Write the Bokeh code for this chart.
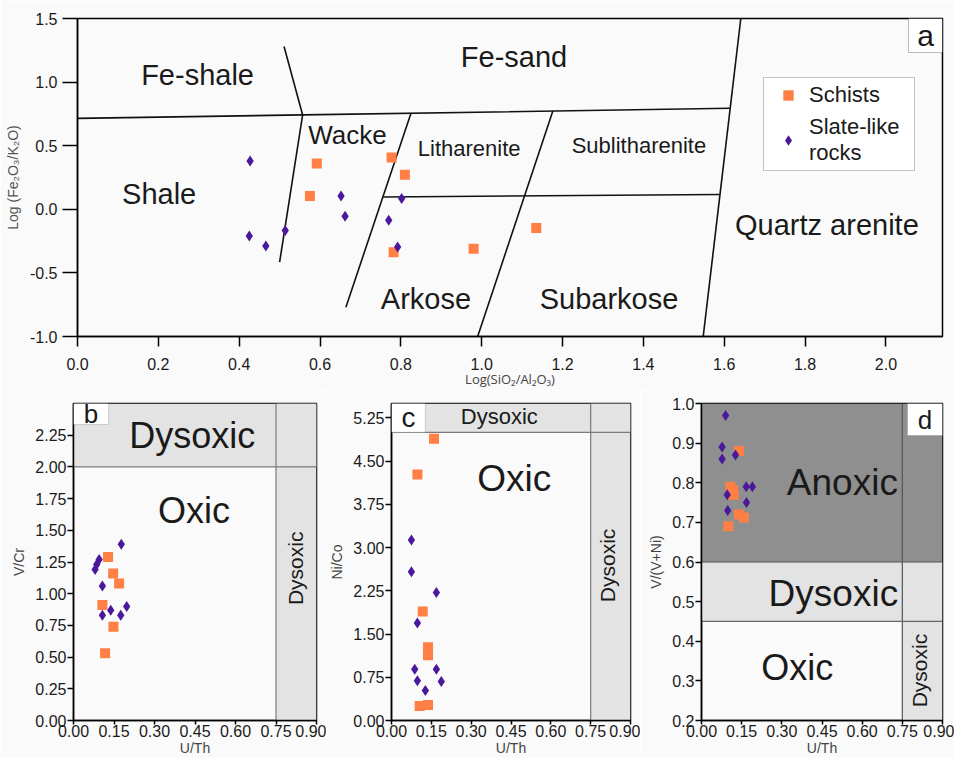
import math
from bokeh.plotting import figure
from bokeh.models import (Range1d, FixedTicker, NumeralTickFormatter, Legend, LegendItem,
                          BoxAnnotation, Span, Label)
from bokeh.layouts import column, row
from bokeh.core.properties import value
from bokeh.embed import file_html
from bokeh.resources import INLINE

# ---------------- data ----------------
# Panel a: Log(SiO2/Al2O3) vs Log(Fe2O3/K2O)
a_schists_x = [0.592, 0.777, 0.810, 0.575, 0.782, 0.980, 1.135]
a_schists_y = [0.360, 0.408, 0.271, 0.105, -0.337, -0.310, -0.147]
a_slate_x = [0.427, 0.652, 0.662, 0.802, 0.770, 0.792, 0.514, 0.466, 0.425]
a_slate_y = [0.379, 0.105, -0.055, 0.084, -0.087, -0.297, -0.166, -0.289, -0.210]

# classification field boundaries (Herron diagram)
a_bound_xs = [[0.0, 0.557, 1.614], [0.511, 0.557], [0.557, 0.500], [0.825, 0.664],
              [0.756, 1.589], [1.176, 0.990], [1.641, 1.548]]
a_bound_ys = [[0.715, 0.742, 0.794], [1.280, 0.742], [0.742, -0.416], [0.755, -0.770],
              [0.097, 0.116], [0.772, -1.000], [1.500, -1.000]]

a_field_names = ["Fe-shale", "Fe-sand", "Wacke", "Litharenite", "Sublitharenite",
                 "Shale", "Arkose", "Subarkose", "Quartz arenite"]
a_field_x = [0.297, 1.080, 0.668, 0.969, 1.389, 0.202, 0.862, 1.315, 1.854]
a_field_y = [1.057, 1.200, 0.584, 0.481, 0.500, 0.124, -0.704, -0.704, -0.126]
a_field_size = ["29px", "29px", "26px", "22px", "22px", "29px", "29px", "29px", "29px"]

a_xticks = [0.0, 0.2, 0.4, 0.6, 0.8, 1.0, 1.2, 1.4, 1.6, 1.8, 2.0]
a_yticks = [-1.0, -0.5, 0.0, 0.5, 1.0, 1.5]

# Panels b-d: U/Th vs redox proxies
uth_ticks = [0.0, 0.15, 0.30, 0.45, 0.60, 0.75, 0.90]
uth_dysoxic = 0.75

b_schists_x = [0.128, 0.147, 0.169, 0.107, 0.148, 0.117]
b_schists_y = [1.29, 1.16, 1.08, 0.91, 0.74, 0.53]
b_slate_x = [0.177, 0.095, 0.086, 0.080, 0.107, 0.107, 0.138, 0.175, 0.197]
b_slate_y = [1.39, 1.27, 1.23, 1.19, 1.06, 0.83, 0.87, 0.83, 0.90]
b_yticks = [0.0, 0.25, 0.5, 0.75, 1.0, 1.25, 1.5, 1.75, 2.0, 2.25]
b_dysoxic = 2.0

c_schists_x = [0.160, 0.0975, 0.1175, 0.1375, 0.1375, 0.106, 0.1375]
c_schists_y = [4.89, 4.27, 1.89, 1.27, 1.13, 0.25, 0.27]
c_slate_x = [0.075, 0.075, 0.169, 0.0975, 0.0875, 0.169, 0.0975, 0.1875, 0.1275]
c_slate_y = [3.13, 2.58, 2.22, 1.69, 0.89, 0.89, 0.69, 0.675, 0.52]
c_yticks = [0.0, 0.75, 1.5, 2.25, 3.0, 3.75, 4.5, 5.25]
c_dysoxic = 5.0

d_schists_x = [0.140, 0.108, 0.118, 0.120, 0.140, 0.158, 0.100]
d_schists_y = [0.880, 0.790, 0.780, 0.770, 0.720, 0.712, 0.690]
d_slate_x = [0.090, 0.077, 0.077, 0.127, 0.167, 0.190, 0.096, 0.168, 0.098]
d_slate_y = [0.970, 0.890, 0.860, 0.870, 0.790, 0.790, 0.770, 0.750, 0.730]
d_yticks = [0.2, 0.3, 0.4, 0.5, 0.6, 0.7, 0.8, 0.9, 1.0]
d_anoxic = 0.60
d_dysoxic = 0.45

# ---------------- styles ----------------
FONT = "Liberation Sans"
SCH_COLOR = "#FF7F45"
SLATE_COLOR = "#4A189A"
LIGHT = "#e3e3e3"
DARK = "#8f8f8f"
BG = "#fafafa"


def style_axes(p, tick_out_x, tick_out_y):
    p.xgrid.visible = False
    p.ygrid.visible = False
    p.outline_line_color = "black"
    p.outline_line_width = 1.5
    p.background_fill_color = BG
    p.border_fill_color = BG
    for ax in (p.xaxis[0], p.yaxis[0]):
        ax.axis_line_color = "black"
        ax.axis_line_width = 1.5
        ax.major_tick_line_color = "black"
        ax.major_tick_line_width = 1.5
        ax.major_tick_in = 0
        ax.minor_tick_in = 0
        ax.minor_tick_out = 0
        ax.major_label_text_font = FONT
        ax.major_label_text_font_size = "16px"
        ax.major_label_text_color = "#1a1a1a"
        ax.axis_label_text_font = FONT
        ax.axis_label_text_font_style = "normal"
    p.xaxis[0].major_tick_out = tick_out_x
    p.yaxis[0].major_tick_out = tick_out_y


# ---------------- panel a ----------------
pa = figure(width=954, height=390, output_backend="svg", toolbar_location=None,
            x_range=Range1d(0, 2.14), y_range=Range1d(-1.0, 1.5),
            min_border_left=77, min_border_right=12, min_border_top=18, min_border_bottom=54)
style_axes(pa, 10, 15)
pa.xaxis.ticker = FixedTicker(ticks=a_xticks)
pa.yaxis.ticker = FixedTicker(ticks=a_yticks)
pa.xaxis.formatter = NumeralTickFormatter(format="0.0")
pa.yaxis.formatter = NumeralTickFormatter(format="0.0")
pa.xaxis.major_label_standoff = 11
pa.yaxis.major_label_standoff = 5
pa.xaxis.axis_label = "Log(SiO₂/Al₂O₃)"
pa.xaxis.axis_label_text_font = "Open Sans"
pa.xaxis.axis_label_text_font_size = "13px"
pa.xaxis.axis_label_text_color = "#444444"
pa.xaxis.axis_label_standoff = -3
pa.yaxis.axis_label = "Log (Fe₂O₃/K₂O)"
pa.yaxis.axis_label_text_font_size = "14px"
pa.yaxis.axis_label_text_color = "#555555"
pa.yaxis.axis_label_standoff = 6

pa.multi_line(xs=a_bound_xs, ys=a_bound_ys, line_color="#111111", line_width=1.6)
pa.text(x=a_field_x, y=a_field_y, text=a_field_names, text_font=value(FONT),
        text_font_size=a_field_size, text_align="center", text_baseline="middle",
        text_color="#1a1a1a")
ra_s = pa.scatter(a_schists_x, a_schists_y, marker="square", size=10,
                  fill_color=SCH_COLOR, line_color=None)
ra_l = pa.scatter(a_slate_x, a_slate_y, marker="diamond", size=11,
                  fill_color=SLATE_COLOR, line_color=None)

legend = Legend(items=[LegendItem(label="Schists", renderers=[ra_s]),
                       LegendItem(label="Slate-like\nrocks", renderers=[ra_l])],
                location=(686, 165), padding=4, spacing=6, margin=0,
                glyph_width=40, glyph_height=26, label_standoff=1, label_width=101,
                label_height=26, label_text_font=FONT, label_text_font_size="22px",
                label_text_color="#1a1a1a", label_text_line_height=1.25,
                border_line_color="#888888",
                border_line_width=1, background_fill_color="white", background_fill_alpha=1)
pa.add_layout(legend)

# letter box a
fa_w, fa_h = 865, 318
pa.add_layout(BoxAnnotation(left=2.14 - 2.14 * 34 / fa_w, right=2.14,
                            bottom=1.5 - 2.5 * 34 / fa_h, top=1.5,
                            fill_color="white", fill_alpha=1, line_color="#222222",
                            line_width=1))
pa.add_layout(Label(x=2.14 - 2.14 * 17 / fa_w, y=1.5 - 2.5 * 17 / fa_h, text="a",
                    text_font=FONT, text_font_size="30px", text_align="center",
                    text_baseline="middle", text_color="#1a1a1a"))


# ---------------- bottom panels ----------------
def make_bottom(width, left, right, y0, y1, yticks, yfmt, ylabel):
    p = figure(width=width, height=368, output_backend="svg", toolbar_location=None,
               x_range=Range1d(0, 0.9), y_range=Range1d(y0, y1),
               min_border_left=left, min_border_right=right,
               min_border_top=13, min_border_bottom=38)
    style_axes(p, 4, 6)
    p.xaxis.ticker = FixedTicker(ticks=uth_ticks)
    p.xaxis.formatter = NumeralTickFormatter(format="0.00")
    p.yaxis.ticker = FixedTicker(ticks=yticks)
    p.yaxis.formatter = NumeralTickFormatter(format=yfmt)
    p.xaxis.major_label_standoff = 0
    p.yaxis.major_label_standoff = 1
    p.xaxis.axis_label = "U/Th"
    p.xaxis.axis_label_text_font_size = "14px"
    p.xaxis.axis_label_standoff = 0
    p.yaxis.axis_label = ylabel
    p.yaxis.axis_label_text_font_size = "14px"
    p.yaxis.axis_label_standoff = 5
    return p


def region(p, color, left, right, bottom, top):
    p.add_layout(BoxAnnotation(left=left, right=right, bottom=bottom, top=top,
                               fill_color=color, fill_alpha=1, line_alpha=0,
                               level="underlay"))


def hline(p, y, color="#7a7a7a"):
    p.add_layout(Span(location=y, dimension="width", line_color=color, line_width=1.2,
                      level="underlay"))


def vline(p, x, color="#7a7a7a"):
    p.add_layout(Span(location=x, dimension="height", line_color=color, line_width=1.2,
                      level="underlay"))


def letter_box(p, left, right, bottom, top, letter, size):
    p.add_layout(BoxAnnotation(left=left, right=right, bottom=bottom, top=top,
                               fill_color="white", fill_alpha=1, line_color="#777777",
                               line_width=1))
    p.add_layout(Label(x=(left + right) / 2, y=(bottom + top) / 2, text=letter,
                       text_font=FONT, text_font_size=size, text_align="center",
                       text_baseline="middle", text_color="#1a1a1a"))


def points(p, sx, sy, lx, ly):
    p.scatter(sx, sy, marker="square", size=10, fill_color=SCH_COLOR, line_color=None)
    p.scatter(lx, ly, marker="diamond", size=11, fill_color=SLATE_COLOR, line_color=None)


def txt(p, x, y, s, size, angle=0.0):
    p.text(x=[x], y=[y], text=[s], text_font=value(FONT), text_font_size=size,
           text_align="center", text_baseline="middle", text_color="#1a1a1a", angle=angle)


# panel b
pb = make_bottom(326, 73, 10, 0.0, 2.5, b_yticks, "0.00", "V/Cr")
region(pb, LIGHT, 0.0, 0.9, b_dysoxic, 2.5)
region(pb, LIGHT, uth_dysoxic, 0.9, 0.0, 2.5)
vline(pb, uth_dysoxic)
hline(pb, b_dysoxic)
txt(pb, 0.44, 2.25, "Dysoxic", "36px")
txt(pb, 0.446, 1.66, "Oxic", "36px")
txt(pb, 0.822, 1.20, "Dysoxic", "21px", math.pi / 2)
points(pb, b_schists_x, b_schists_y, b_slate_x, b_slate_y)
letter_box(pb, 0.0, 0.9 * 35 / 243, 2.5 - 2.5 * 21 / 317, 2.5, "b", "26px")

# panel c
pc = make_bottom(314, 64, 10, 0.0, 5.5, c_yticks, "0.00", "Ni/Co")
region(pc, LIGHT, 0.0, 0.9, c_dysoxic, 5.5)
region(pc, LIGHT, uth_dysoxic, 0.9, 0.0, 5.5)
vline(pc, uth_dysoxic)
hline(pc, c_dysoxic)
txt(pc, 0.406, 5.27, "Dysoxic", "22px")
txt(pc, 0.462, 4.20, "Oxic", "37px")
txt(pc, 0.815, 2.69, "Dysoxic", "21px", math.pi / 2)
points(pc, c_schists_x, c_schists_y, c_slate_x, c_slate_y)
letter_box(pc, 0.0, 0.9 * 34 / 240, c_dysoxic, 5.5, "c", "28px")

# panel d
pd_ = make_bottom(314, 61, 12, 0.2, 1.0, d_yticks, "0.0", "V/(V+Ni)")
region(pd_, DARK, 0.0, 0.9, d_anoxic, 1.0)
region(pd_, LIGHT, 0.0, 0.9, d_dysoxic, d_anoxic)
region(pd_, LIGHT, uth_dysoxic, 0.9, 0.2, d_dysoxic)
vline(pd_, uth_dysoxic, "#555555")
hline(pd_, d_anoxic, "#555555")
hline(pd_, d_dysoxic, "#666666")
txt(pd_, 0.526, 0.80, "Anoxic", "37px")
txt(pd_, 0.4925, 0.521, "Dysoxic", "37px")
txt(pd_, 0.358, 0.335, "Oxic", "36px")
txt(pd_, 0.815, 0.326, "Dysoxic", "21px", math.pi / 2)
points(pd_, d_schists_x, d_schists_y, d_slate_x, d_slate_y)
letter_box(pd_, 0.9 - 0.9 * 35 / 241, 0.9, 1.0 - 0.8 * 32 / 317, 1.0, "d", "26px")

layout = column(pa, row(pb, pc, pd_, spacing=0), spacing=0)
open("out.html", "w").write(file_html(layout, INLINE))
